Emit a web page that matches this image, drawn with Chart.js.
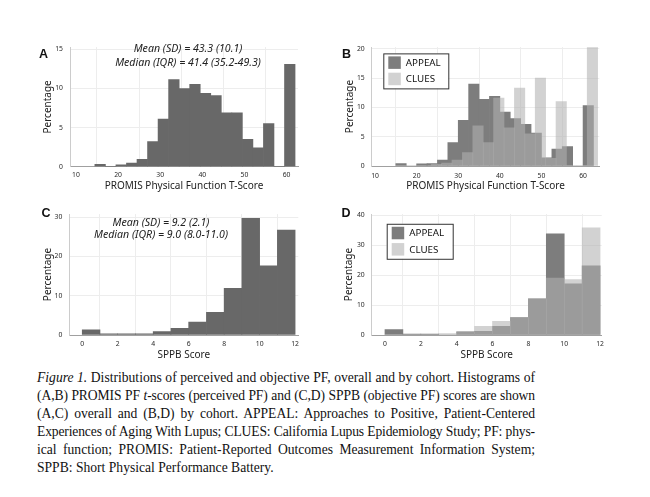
<!DOCTYPE html>
<html>
<head>
<meta charset="utf-8">
<script src="https://cdn.jsdelivr.net/npm/chart.js@4.4.1/dist/chart.umd.min.js"></script>
<style>
  body { margin: 0; width: 650px; height: 497px; background: #fff; position: relative; overflow: hidden; }
  canvas { position: absolute; }
  .letter { position: absolute; font: bold 12.5px/1 "Liberation Sans", sans-serif; color: #111; }
  .note { position: absolute; font: italic 10.6px/12px "Noto Sans", sans-serif; color: #222; white-space: nowrap; transform: translateX(-50%); }
  .caption { position: absolute; left: 37px; top: 369px; width: 498px; font: 13.6px/18px "Liberation Serif", serif; color: #111; }
  .caption div { text-align: justify; text-align-last: justify; white-space: nowrap; }
  .caption div.last { text-align-last: left; }
</style>
</head>
<body>
<canvas id="chartA" width="275" height="162" style="left:30px;top:36px"></canvas>
<canvas id="chartB" width="280" height="162" style="left:330px;top:36px"></canvas>
<canvas id="chartC" width="275" height="164" style="left:30px;top:203px"></canvas>
<canvas id="chartD" width="280" height="164" style="left:330px;top:203px"></canvas>

<div class="letter" style="left:39px;top:48px">A</div>
<div class="letter" style="left:342px;top:47.5px">B</div>
<div class="letter" style="left:41.5px;top:207px">C</div>
<div class="letter" style="left:341.5px;top:207px">D</div>

<div class="note" style="left:188px;top:42px">Mean (SD) = 43.3 (10.1)</div>
<div class="note" style="left:188px;top:56px">Median (IQR) = 41.4 (35.2-49.3)</div>
<div class="note" style="left:161px;top:215.5px">Mean (SD) = 9.2 (2.1)</div>
<div class="note" style="left:161px;top:228px">Median (IQR) = 9.0 (8.0-11.0)</div>

<div class="caption">
  <div><i>Figure 1.</i> Distributions of perceived and objective PF, overall and by cohort. Histograms of</div>
  <div>(A,B) PROMIS PF <i>t</i>-scores (perceived PF) and (C,D) SPPB (objective PF) scores are shown</div>
  <div>(A,C) overall and (B,D) by cohort. APPEAL: Approaches to Positive, Patient-Centered</div>
  <div>Experiences of Aging With Lupus; CLUES: California Lupus Epidemiology Study; PF: phys-</div>
  <div>ical function; PROMIS: Patient-Reported Outcomes Measurement Information System;</div>
  <div class="last">SPPB: Short Physical Performance Battery.</div>
</div>

<script>
// PROMIS PF t-score histograms (bin centres, % of participants)
const promisBinsAll = [15.75, 18.25, 20.75, 23.25, 25.75, 28.25, 30.75, 33.25, 35.75, 38.25, 40.75, 43.25, 45.75, 48.25, 50.75, 53.25, 55.75, 58.25, 60.75];
const promisAll = [0.3, 0, 0.25, 0.45, 0.95, 3.2, 6.1, 11.15, 10.0, 10.55, 9.4, 9.1, 6.9, 6.9, 3.5, 2.4, 5.5, 0, 13.1];

const promisBinsAppeal = [16.25, 18.75, 21.25, 23.75, 26.25, 28.75, 31.25, 33.75, 36.25, 38.75, 41.25, 43.75, 46.25, 48.75, 51.25, 53.75, 56.25, 58.75, 61.25];
const promisAppeal = [0.4, 0, 0.35, 0.4, 1.0, 4.0, 7.8, 14.0, 11.4, 11.9, 9.2, 8.1, 7.1, 5.6, 1.4, 2.9, 3.3, 0, 10.3];

const promisBinsClues = [24.75, 27.25, 29.75, 32.25, 34.75, 37.25, 39.75, 42.25, 44.75, 47.25, 49.75, 52.25, 54.75, 57.25, 59.75, 62.25];
const promisClues = [0.3, 0.5, 1.0, 2.3, 6.85, 4.0, 11.6, 6.5, 13.3, 5.5, 15.0, 1.3, 11.0, 0, 0, 20.2];

// SPPB score histograms
const sppbBins = [0.5, 1.5, 2.5, 3.5, 4.5, 5.5, 6.5, 7.5, 8.5, 9.5, 10.5, 11.5];
const sppbAll = [1.3, 0.3, 0.3, 0.3, 0.9, 1.7, 3.3, 5.8, 11.9, 29.7, 17.6, 26.7];
const sppbAppeal = [1.8, 0.3, 0.3, 0, 1.1, 1.2, 2.9, 5.8, 12.1, 33.8, 17.1, 23.1];
const sppbClues = [0, 0, 0, 0.5, 1.1, 2.9, 4.6, 5.8, 12.1, 19.0, 18.5, 35.8];

const promisTicks = [10, 20, 30, 40, 50, 60];
const sppbTicks = [0, 2, 4, 6, 8, 10, 12];
const pctTicksA = [0, 5, 10, 15];
const pctTicksB = [0, 5, 10, 15, 20];
const pctTicksC = [0, 10, 20, 30];
const pctTicksD = [0, 10, 20, 30, 40];

const cohorts = ['APPEAL', 'CLUES'];

// squeeze a caption line a little if the serif face runs wider than the original
document.querySelectorAll('.caption div').forEach(d => {
  let ls = 0;
  while (d.scrollWidth > d.clientWidth + 0.5 && ls > -1) {
    ls -= 0.05;
    d.style.letterSpacing = ls + 'px';
  }
});

Chart.defaults.font.family = '"Noto Sans", sans-serif';
Chart.defaults.animation = false;

const OVERALL = '#686868';
const APPEAL_COL = '#7d7d7d';
const CLUES_COL = 'rgba(177,177,177,0.58)';

const toPoints = (bins, vals) => bins.map((b, i) => ({ x: b, y: vals[i] }));

// legend box drawn inside the plot area
const boxLegend = {
  id: 'boxLegend',
  afterDraw(chart, args, opts) {
    if (!opts.show) return;
    const { ctx, chartArea } = chart;
    const x = chartArea.left + opts.dx, y = chartArea.top + opts.dy;
    ctx.save();
    ctx.fillStyle = '#fff';
    ctx.fillRect(x, y, opts.w, opts.h);
    ctx.strokeStyle = '#333';
    ctx.lineWidth = 1;
    ctx.strokeRect(x + 0.5, y + 0.5, opts.w, opts.h);
    chart.data.datasets.forEach((ds, i) => {
      const sy = y + 3 + i * 16.3;
      ctx.fillStyle = ds.backgroundColor;
      ctx.fillRect(x + 5, sy, 12.5, 12.5);
      ctx.fillStyle = '#111';
      ctx.font = '9.8px "Noto Sans"';
      ctx.textBaseline = 'middle';
      ctx.fillText(ds.label, x + 22.5, sy + 6.8);
    });
    ctx.restore();
  }
};

function scalesFor(g) {
  const s = {
    x: {
      type: 'linear', min: g.xMin, max: g.xMax, offset: false,
      afterBuildTicks: sc => { sc.ticks = g.xTicks.map(v => ({ value: v })); },
      afterFit: sc => { sc.height = g.xHeight; },
      grid: { color: '#ededed', drawTicks: false },
      border: { color: '#a0a0a0' },
      ticks: { font: { size: 6.8 }, color: '#2a2a2a', padding: g.xPad, maxRotation: 0 },
      title: { display: true, text: g.xTitle, font: { size: 10 }, color: '#222', padding: { top: 0, bottom: 6 } }
    },
    y: {
      min: 0, max: g.yMax,
      afterBuildTicks: sc => { sc.ticks = g.yTicks.map(v => ({ value: v })); },
      afterFit: sc => { sc.width = g.yWidth; },
      grid: { color: '#ededed', drawTicks: false },
      border: { color: '#cccccc' },
      ticks: { font: { size: 6.8 }, color: '#2a2a2a', padding: 7 },
      title: { display: true, text: 'Percentage', font: { size: 10 }, color: '#222', padding: { top: g.yTitlePad, bottom: 0 } }
    }
  };
  if (g.second) {
    s.x2 = {
      type: 'linear', display: false, min: g.xMin, max: g.xMax, offset: false,
      afterBuildTicks: sc => { sc.ticks = g.xTicks.map(v => ({ value: v })); }
    };
  }
  return s;
}

function histChart(id, datasets, g, legend) {
  return new Chart(document.getElementById(id), {
    type: 'bar',
    data: { datasets },
    options: {
      responsive: false,
      layout: { padding: { left: 0, right: g.padRight, top: g.padTop, bottom: 0 } },
      scales: scalesFor(g),
      plugins: {
        legend: { display: false },
        tooltip: { enabled: false },
        boxLegend: legend || { show: false }
      }
    },
    plugins: [boxLegend]
  });
}

const barStyle = { barPercentage: 1, categoryPercentage: 1, borderWidth: 0, grouped: false };

histChart('chartA', [
  { label: 'Overall', data: toPoints(promisBinsAll, promisAll), backgroundColor: OVERALL, ...barStyle }
], { xMin: 8.6, xMax: 62.7, xTicks: promisTicks, yMax: 15.3, yTicks: pctTicksA,
     xTitle: 'PROMIS Physical Function T-Score', xHeight: 31.3, xPad: 4, yWidth: 40, yTitlePad: 12.3,
     padRight: 7, padTop: 4.7 });

histChart('chartB', [
  { label: cohorts[0], data: toPoints(promisBinsAppeal, promisAppeal), backgroundColor: APPEAL_COL, order: 2, xAxisID: 'x', ...barStyle },
  { label: cohorts[1], data: toPoints(promisBinsClues, promisClues), backgroundColor: CLUES_COL, order: 1, xAxisID: 'x2', ...barStyle }
], { xMin: 9.2, xMax: 63.9, xTicks: promisTicks, yMax: 20.3, yTicks: pctTicksB,
     xTitle: 'PROMIS Physical Function T-Score', xHeight: 32, xPad: 5.5, yWidth: 41.7, yTitlePad: 14.5,
     padRight: 10.7, padTop: 6.7, second: true },
   { show: true, dx: 11.6, dy: 6.3, w: 65, h: 35 });

histChart('chartC', [
  { label: 'Overall', data: toPoints(sppbBins, sppbAll), backgroundColor: OVERALL, ...barStyle }
], { xMin: -0.73, xMax: 12.18, xTicks: sppbTicks, yMax: 30.8, yTicks: pctTicksC,
     xTitle: 'SPPB Score', xHeight: 32, xPad: 5, yWidth: 39.3, yTitlePad: 12,
     padRight: 6.7, padTop: 4.3 });

histChart('chartD', [
  { label: cohorts[0], data: toPoints(sppbBins, sppbAppeal), backgroundColor: APPEAL_COL, order: 2, ...barStyle },
  { label: cohorts[1], data: toPoints(sppbBins, sppbClues), backgroundColor: CLUES_COL, order: 1, ...barStyle }
], { xMin: -0.74, xMax: 12.09, xTicks: sppbTicks, yMax: 40.4, yTicks: pctTicksD,
     xTitle: 'SPPB Score', xHeight: 32, xPad: 5, yWidth: 41.7, yTitlePad: 13.5,
     padRight: 8.3, padTop: 6.3 },
   { show: true, dx: 15, dy: 9.7, w: 66, h: 35 });
</script>
</body>
</html>
